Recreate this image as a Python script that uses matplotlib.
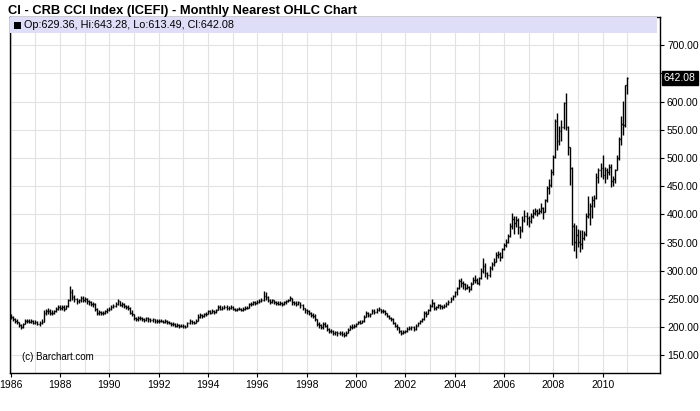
import numpy as np
import matplotlib.pyplot as plt
from matplotlib.patches import Rectangle
import matplotlib.transforms as mtransforms

plt.rcParams['font.family'] = ['Liberation Sans', 'DejaVu Sans']

# --- monthly OHLC, Jan 1986 .. Jan 2011 (open = previous close) ---
first_open = 221
closes = [
    219, 214, 212, 209, 204, 201, 206, 211, 212, 210, 212, 208,  # 1986
    209, 206, 208, 210, 226, 228, 229, 226, 225, 228, 232, 236,  # 1987
    234, 236, 233, 237, 248, 262, 254, 250, 246, 248, 252, 249,  # 1988
    250, 246, 244, 241, 242, 232, 225, 227, 225, 226, 228, 231,  # 1989
    233, 236, 238, 241, 246, 240, 242, 238, 236, 234, 226, 224,  # 1990
    216, 214, 217, 216, 215, 213, 216, 214, 213, 214, 211, 212,  # 1991
    211, 212, 210, 211, 209, 208, 206, 205, 203, 204, 202, 203,  # 1992
    202, 201, 207, 211, 209, 208, 212, 219, 222, 220, 223, 224,  # 1993
    228, 226, 229, 227, 231, 236, 233, 234, 236, 235, 234, 236,  # 1994
    233, 231, 232, 233, 231, 233, 234, 235, 241, 242, 244, 243,  # 1995
    245, 247, 249, 256, 253, 249, 245, 248, 245, 243, 242, 243,  # 1996
    241, 244, 246, 248, 252, 244, 243, 242, 244, 240, 234, 230,  # 1997
    228, 225, 222, 220, 214, 206, 204, 200, 206, 203, 197, 193,  # 1998
    193, 190, 191, 189, 190, 188, 186, 190, 196, 201, 200, 203,  # 1999
    205, 209, 208, 211, 219, 225, 221, 224, 229, 227, 231, 232,  # 2000
    228, 229, 225, 220, 216, 214, 208, 203, 200, 193, 190, 192,  # 2001
    193, 197, 199, 200, 197, 203, 207, 211, 215, 226, 224, 230,  # 2002
    238, 243, 234, 236, 239, 237, 236, 238, 241, 245, 250, 255,  # 2003
    262, 270, 282, 278, 276, 270, 272, 268, 277, 284, 283, 279,  # 2004
    287, 300, 308, 297, 292, 305, 312, 316, 328, 330, 325, 338,  # 2005
    346, 352, 362, 380, 392, 384, 390, 378, 372, 390, 397, 394,  # 2006
    388, 397, 402, 406, 403, 407, 412, 405, 425, 447, 452, 476,  # 2007
    502, 565, 530, 548, 555, 598, 555, 520, 482, 380, 352, 363,  # 2008
    352, 348, 358, 365, 398, 400, 415, 426, 430, 466, 478, 482,  # 2009
    470, 478, 475, 485, 460, 462, 478, 500, 533, 560, 558, 629.36,  # 2010
    642.08,  # 2011
]
highs = [
    223, 220, 216, 214, 210, 206, 208, 214, 215, 214, 214, 213,
    213, 212, 211, 214, 230, 233, 234, 232, 230, 231, 236, 240,
    240, 239, 239, 240, 250, 274, 268, 257, 252, 251, 256, 255,
    254, 252, 249, 247, 245, 243, 234, 230, 229, 229, 231, 234,
    236, 239, 241, 244, 250, 247, 245, 243, 240, 239, 236, 230,
    224, 219, 220, 220, 218, 217, 219, 218, 216, 217, 215, 214,
    214, 215, 213, 214, 213, 211, 210, 209, 207, 207, 206, 206,
    205, 204, 209, 214, 213, 211, 214, 223, 225, 224, 225, 227,
    231, 231, 232, 231, 233, 240, 240, 237, 239, 239, 238, 239,
    237, 235, 235, 236, 235, 236, 237, 238, 243, 245, 246, 247,
    248, 250, 252, 264, 262, 255, 251, 250, 249, 247, 246, 246,
    245, 246, 249, 251, 255, 252, 247, 246, 247, 245, 241, 235,
    233, 230, 227, 226, 223, 215, 209, 206, 209, 209, 206, 199,
    197, 195, 194, 194, 194, 193, 191, 193, 198, 204, 205, 205,
    208, 212, 213, 213, 221, 228, 227, 226, 232, 232, 234, 236,
    233, 232, 230, 226, 222, 218, 216, 210, 205, 201, 195, 195,
    196, 200, 202, 203, 202, 205, 210, 213, 217, 229, 229, 233,
    242, 251, 244, 238, 242, 241, 240, 241, 244, 248, 254, 258,
    264, 272, 286, 288, 282, 278, 276, 274, 280, 290, 292, 288,
    290, 305, 323, 314, 298, 308, 316, 322, 333, 336, 333, 341,
    350, 356, 366, 384, 403, 397, 398, 393, 380, 398, 408, 404,
    398, 403, 410, 412, 410, 411, 420, 414, 428, 450, 462, 480,
    506, 570, 579, 556, 567, 600, 616, 556, 520, 485, 384, 381,
    375, 372, 372, 370, 402, 432, 420, 432, 435, 473, 482, 491,
    505, 485, 483, 490, 490, 468, 481, 506, 538, 575, 601, 630,
    643.28,
]
lows = [
    215, 211, 208, 205, 200, 197, 199, 205, 208, 207, 208, 205,
    205, 204, 203, 206, 209, 222, 224, 221, 221, 223, 227, 230,
    230, 231, 229, 232, 236, 246, 248, 244, 242, 243, 245, 244,
    245, 242, 240, 237, 236, 229, 221, 222, 221, 222, 224, 226,
    229, 231, 234, 236, 239, 237, 236, 234, 232, 230, 224, 220,
    213, 211, 212, 213, 211, 209, 211, 210, 209, 210, 208, 208,
    208, 209, 207, 207, 206, 205, 203, 202, 200, 200, 199, 200,
    199, 198, 200, 206, 205, 205, 207, 211, 217, 217, 218, 220,
    223, 223, 225, 224, 226, 230, 230, 230, 232, 231, 230, 232,
    230, 228, 229, 230, 228, 229, 231, 232, 234, 238, 240, 240,
    242, 243, 245, 247, 248, 244, 242, 243, 241, 240, 239, 240,
    238, 239, 242, 244, 246, 240, 239, 238, 239, 235, 230, 226,
    224, 221, 219, 216, 212, 203, 198, 197, 197, 200, 194, 190,
    189, 187, 186, 185, 186, 184, 183, 185, 189, 195, 197, 198,
    201, 205, 205, 207, 210, 218, 218, 219, 223, 223, 226, 228,
    226, 226, 222, 218, 214, 211, 206, 201, 195, 190, 187, 188,
    189, 192, 196, 195, 194, 196, 202, 205, 209, 213, 219, 223,
    229, 236, 231, 231, 234, 233, 232, 234, 236, 240, 244, 248,
    253, 258, 268, 272, 268, 266, 267, 263, 266, 276, 278, 276,
    275, 286, 297, 290, 286, 290, 302, 309, 315, 322, 318, 323,
    337, 342, 350, 360, 374, 365, 377, 366, 358, 369, 386, 382,
    377, 384, 394, 399, 398, 400, 403, 392, 405, 422, 436, 448,
    470, 500, 514, 523, 530, 552, 550, 505, 452, 345, 336, 322,
    342, 333, 338, 355, 362, 394, 381, 393, 414, 428, 456, 467,
    462, 456, 462, 470, 448, 450, 455, 478, 496, 523, 540, 555,
    613.49,
]
year_ticks = list(range(1986, 2012, 2))
price_ticks = list(range(150, 701, 50))
header_text = "Op:629.36, Hi:643.28, Lo:613.49, Cl:642.08"

closes = np.array(closes, dtype=float)
highs = np.array(highs, dtype=float)
lows = np.array(lows, dtype=float)
opens = np.concatenate([[first_open], closes[:-1]])
x = 1986 + np.arange(len(closes)) / 12.0

fig = plt.figure(figsize=(7, 4.11), dpi=100)
ax = fig.add_axes([0.0143, 0.0925, 0.9286, 0.8661])

# grid
for yr in range(1986, 2012):
    ax.axvline(yr, color='#e2e2e2', lw=0.8, zorder=0)
for p in price_ticks:
    ax.axhline(p, color='#e2e2e2', lw=0.8, zorder=0)

# OHLC bars
w = 0.035
ax.vlines(x, lows, highs, color='black', lw=1.0, zorder=3)
ax.hlines(opens, x - w, x, color='black', lw=1.0, zorder=3)
ax.hlines(closes, x, x + w, color='black', lw=1.0, zorder=3)

ax.set_xlim(1985.97, 2012.33)
ax.set_ylim(119, 750)

# header band
ax.add_patch(Rectangle((0, 0.955), 0.995, 0.045, transform=ax.transAxes,
                       facecolor='#dedef8', edgecolor='none', zorder=4))
ax.add_patch(Rectangle((0.0062, 0.967), 0.0105, 0.019, transform=ax.transAxes,
                       facecolor='black', edgecolor='none', zorder=5))
ax.text(0.0215, 0.977, header_text, transform=ax.transAxes, fontsize=7.8,
        va='center', ha='left', zorder=5)

ax.text(0.018, 0.045, '(c) Barchart.com', transform=ax.transAxes,
        fontsize=7, va='center', ha='left')

# axes / ticks
for s in ax.spines.values():
    s.set_color('black')
    s.set_linewidth(1)
ax.yaxis.tick_right()
ax.set_yticks(price_ticks)
# 650 label sits under the last price box
ax.set_yticklabels(["" if p == 650 else f"{p:.2f}" for p in price_ticks])
ax.tick_params(axis='y', direction='out', length=3, width=0.8,
               labelsize=7.5, pad=2)
ax.set_xticks(year_ticks)
ax.set_xticklabels([str(y) for y in year_ticks])
ax.tick_params(axis='x', direction='out', length=3, width=0.8,
               labelsize=7.5, pad=2)

# last price box
trans = mtransforms.blended_transform_factory(ax.transAxes, ax.transData)
ax.text(1.006, closes[-1], f"{closes[-1]:.2f}", transform=trans,
        fontsize=7.5, color='white', va='center', ha='left', zorder=10,
        clip_on=False,
        bbox=dict(boxstyle='square,pad=0.2', facecolor='black',
                  edgecolor='black'))

fig.text(0.011, 0.987, 'CI - CRB CCI Index (ICEFI) - Monthly Nearest OHLC Chart',
         fontsize=9.3, fontweight='bold', va='top', ha='left')

fig.savefig('out.png', dpi=100, facecolor='white')
